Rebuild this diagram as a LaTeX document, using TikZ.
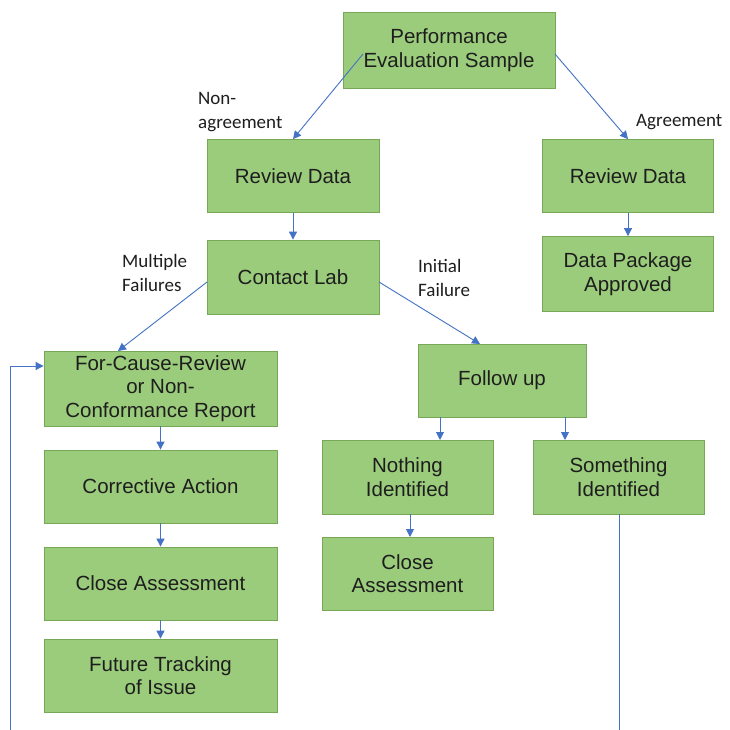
\documentclass[tikz,border=0pt]{standalone}
\usepackage{fontspec}
\setmainfont{Liberation Sans}
\newfontfamily\labfont{Carlito}
\usetikzlibrary{arrows.meta}
\definecolor{boxfill}{RGB}{155,204,124}
\definecolor{boxline}{RGB}{118,168,88}
\definecolor{arr}{RGB}{68,114,196}
\definecolor{txt}{RGB}{30,30,30}
\begin{document}
\begin{tikzpicture}[x=1pt,y=-1pt,
  box/.style={draw=boxline,line width=0.8pt,fill=boxfill,text=txt,align=center,
    font=\fontsize{20.5}{23.5}\selectfont,inner sep=0pt},
  lab/.style={text=txt,align=left,font=\labfont\fontsize{19}{23.5}\selectfont,inner sep=0pt},
  conn/.style={draw=arr,line width=0.9pt,-{Triangle[length=8pt,width=8pt]}},
  line/.style={draw=arr,line width=0.9pt}]
\useasboundingbox (0,0) rectangle (730,730);
\fill[white] (0,0) rectangle (730,730);
% boxes
\node[box,minimum width=212pt,minimum height=76pt] (pes) at (449,50) {Performance\\Evaluation Sample};
\node[box,minimum width=172pt,minimum height=73pt] (rdl) at (293,176) {Review Data};
\node[box,minimum width=171pt,minimum height=73pt] (rdr) at (628,176) {Review Data};
\node[box,minimum width=172pt,minimum height=74pt] (cl) at (293,277) {Contact Lab};
\node[box,minimum width=171pt,minimum height=75pt] (dpa) at (628,274) {Data Package\\Approved};
\node[box,minimum width=233pt,minimum height=75pt] (fcr) at (160.5,388.5) {For-Cause-Review\\or Non-\\Conformance Report};
\node[box,minimum width=168pt,minimum height=73pt] (fu) at (502,380.5) {Follow up};
\node[box,minimum width=233pt,minimum height=73pt] (ca) at (160.5,486.5) {Corrective Action};
\node[box,minimum width=171pt,minimum height=74pt] (ni) at (407.5,477) {Nothing\\Identified};
\node[box,minimum width=171pt,minimum height=74pt] (si) at (618.5,477) {Something\\Identified};
\node[box,minimum width=233pt,minimum height=73pt] (cal) at (160.5,583.5) {Close Assessment};
\node[box,minimum width=171pt,minimum height=73pt] (cam) at (407.5,573.5) {Close\\Assessment};
\node[box,minimum width=233pt,minimum height=73pt] (ft) at (160.5,675.5) {Future Tracking\\of Issue};
% labels
\node[lab,anchor=west] (lna) at (198,112) {Non-\\agreement};
\node[lab,anchor=west] (lag) at (636,122) {Agreement};
\node[lab,anchor=west] (lmf) at (122,273) {Multiple\\Failures};
\node[lab,anchor=west] (lif) at (418,278) {Initial\\Failure};
% connectors
\coordinate (a1) at (363,54);
\coordinate (a2) at (555,54);
\draw[conn] (a1) -- (rdl.north);
\draw[conn] (a2) -- (rdr.north);
\draw[conn] (rdl) -- (cl);
\draw[conn] (rdr) -- (dpa);
\coordinate (b1) at (207,282);
\coordinate (b2) at (379,282);
\draw[conn] (b1) -- (118,351);
\draw[conn] (b2) -- (480,344);
\draw[conn] (fcr) -- (ca);
\draw[conn] (ca) -- (cal);
\draw[conn] (cal) -- (ft);
\coordinate (c1) at (440,417);
\coordinate (c1e) at (440,440);
\coordinate (c2) at (565,417);
\coordinate (c2e) at (565,440);
\draw[conn] (c1) -- (c1e);
\draw[conn] (c2) -- (c2e);
\coordinate (d1) at (410,514);
\coordinate (d1e) at (410,537);
\draw[conn] (d1) -- (d1e);
\coordinate (e1) at (619,730);
\draw[line] (si.south -| e1) -- (e1);
\coordinate (f1) at (10,730);
\coordinate (f2) at (10,366);
\draw[conn] (f1) -- (f2) -- (fcr.west |- f2);
\end{tikzpicture}
\end{document}
